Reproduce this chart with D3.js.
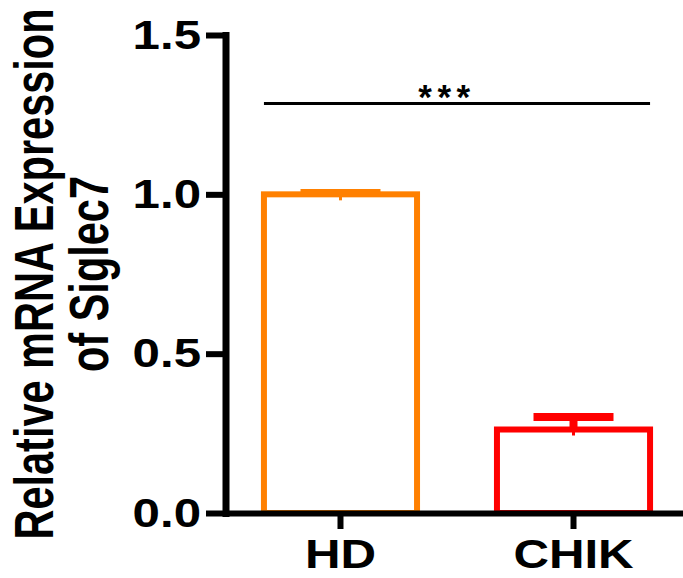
<!DOCTYPE html>
<html>
<head>
<meta charset="utf-8">
<script src="https://cdn.jsdelivr.net/npm/d3@7"></script>
<style>
  html, body { margin: 0; padding: 0; background: #fff; }
  svg { display: block; }
  text { font-family: "Liberation Sans", Arial, sans-serif; font-weight: bold; fill: #000; }
</style>
</head>
<body>
<svg id="chart" width="683" height="578"></svg>
<script>
// ---- data ----
const categories = ["HD", "CHIK"];
const means = [1.0, 0.262];
const sems = [0.004, 0.039];
const barColors = ["#FF8000", "#FF0000"];
const yTicks = [0, 0.5, 1.0, 1.5];
const yTitleLines = ["Relative mRNA Expression", "of Siglec7"];
const sigLabel = "***";
const sigValue = 1.285;

// ---- layout ----
const axisX = 225.5, axisY = 513;
const svg = d3.select("#chart");

const y = d3.scaleLinear().domain([0, 1.5]).range([axisY, 35]);
const x = d3.scaleBand().domain(categories)
  .range([axisX, 688.5]).paddingInner(0.343).paddingOuter(0.165);

// bars
const g = svg.append("g");
g.selectAll("rect.bar").data(categories).join("rect")
  .attr("class", "bar")
  .attr("x", d => x(d))
  .attr("width", x.bandwidth())
  .attr("y", (d, i) => y(means[i]))
  .attr("height", (d, i) => y(0) - y(means[i]))
  .attr("fill", "#fff")
  .attr("stroke", (d, i) => barColors[i])
  .attr("stroke-width", 6);

// error bars
categories.forEach((c, i) => {
  const cx = x(c) + x.bandwidth() / 2;
  const yt = y(means[i] + sems[i]);
  const ym = y(means[i]);
  g.append("line").attr("x1", cx).attr("x2", cx).attr("y1", ym).attr("y2", yt)
    .attr("stroke", barColors[i]).attr("stroke-width", 8);
  g.append("line").attr("x1", cx).attr("x2", cx).attr("y1", ym).attr("y2", ym + 6)
    .attr("stroke", barColors[i]).attr("stroke-width", 3);
  g.append("line").attr("x1", cx - 40).attr("x2", cx + 40).attr("y1", yt).attr("y2", yt)
    .attr("stroke", barColors[i]).attr("stroke-width", 8);
});

// y axis
const yAxis = svg.append("g").attr("transform", `translate(${axisX},0)`)
  .call(d3.axisLeft(y).tickValues(yTicks).tickFormat(d3.format(".1f"))
    .tickSize(19.5).tickSizeOuter(0).tickPadding(5));
yAxis.select(".domain").attr("stroke", "#000").attr("stroke-width", 7)
  .attr("stroke-linecap", "square");
yAxis.selectAll(".tick line").attr("stroke", "#000").attr("stroke-width", 6);
yAxis.selectAll(".tick text").attr("font-size", 41).attr("font-family", null)
  .style("font-family", '"Liberation Sans", Arial, sans-serif').style("font-weight", "bold");

// x axis
const xAxis = svg.append("g").attr("transform", `translate(0,${axisY})`)
  .call(d3.axisBottom(x).tickSize(16).tickSizeOuter(0).tickPadding(10));
xAxis.select(".domain").attr("stroke", "#000").attr("stroke-width", 6);
xAxis.selectAll(".tick line").attr("stroke", "#000").attr("stroke-width", 6);
xAxis.selectAll(".tick text").attr("font-size", 41).attr("font-family", null)
  .style("font-family", '"Liberation Sans", Arial, sans-serif').style("font-weight", "bold");

// stretch horizontal texts a little (reference is wider than Arial at that height)
svg.selectAll(".tick text").each(function () {
  const len = this.getComputedTextLength();
  d3.select(this).attr("textLength", len * 1.2).attr("lengthAdjust", "spacingAndGlyphs");
});

// y title (rotated; glyphs taller across the line than along it)
const yMid = (y(0) + y(1.5)) / 2;
const titleBaselines = [53, 108];
yTitleLines.forEach((t, i) => {
  svg.append("text")
    .attr("transform", `translate(${titleBaselines[i]},${yMid}) rotate(-90) scale(1,1.32)`)
    .attr("text-anchor", "middle")
    .attr("font-size", 41.5)
    .text(t);
});

// significance line
const x0 = x(categories[0]), x1 = x(categories[1]) + x.bandwidth();
svg.append("line").attr("x1", x0).attr("x2", x1)
  .attr("y1", y(sigValue)).attr("y2", y(sigValue))
  .attr("stroke", "#000").attr("stroke-width", 3);
svg.append("text").attr("x", (x0 + x1) / 2 - 10).attr("y", y(sigValue) + 5)
  .attr("text-anchor", "middle").attr("font-size", 35)
  .attr("letter-spacing", 5.5)
  .text(sigLabel);
</script>
</body>
</html>
